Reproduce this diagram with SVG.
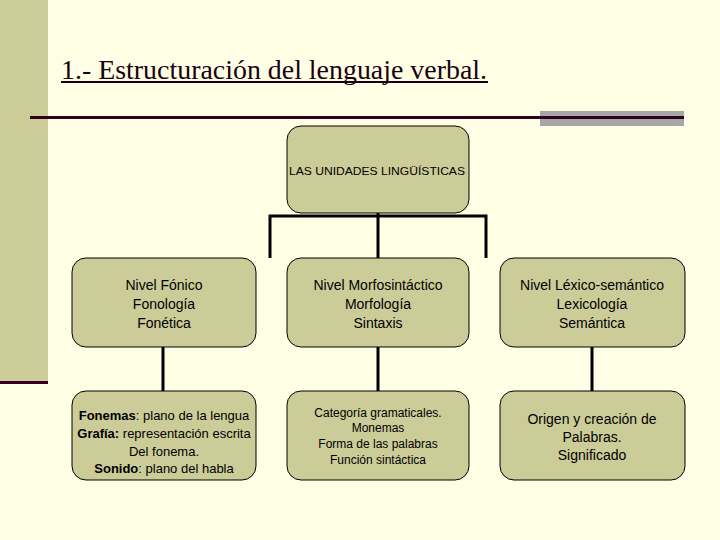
<svg xmlns="http://www.w3.org/2000/svg" width="720" height="540" viewBox="0 0 720 540">
<style>
.box{fill:#CCCC99;stroke:#000;stroke-width:1}
.c{stroke:#000;stroke-width:3;fill:none}
text{font-family:"Liberation Sans",Arial,sans-serif;fill:#000;text-anchor:middle}
.t{font-size:14px}
.s{font-size:12px}
.f{font-size:13px}
.ti{font-family:"Liberation Serif","Times New Roman",serif;font-size:27px;text-anchor:start;fill:#1a0010}
</style>
<rect width="720" height="540" fill="#FFFFE5"/>
<rect x="0" y="0" width="48" height="382" fill="#CCCC99"/>
<rect x="0" y="381" width="48" height="3" fill="#330022"/>
<rect x="540" y="111" width="144" height="15" fill="#A6A6A6"/>
<rect x="30" y="116" width="654" height="3" fill="#330022"/>
<text class="ti" x="61" y="79" textLength="426" lengthAdjust="spacingAndGlyphs">1.- Estructuración del lenguaje verbal.</text>
<rect x="61" y="81" width="427" height="2" fill="#1a0010"/>
<g id="connectors">
<path class="c" d="M270 258V216H486V258M378 213V258"/>
<path class="c" d="M163 347V391M378 347V391M592 347V391"/>
</g>
<g id="root"><rect class="box" x="287" y="126" width="182" height="87" rx="14"/><text x="377" y="175" style="font-size:11px" textLength="176" lengthAdjust="spacingAndGlyphs">LAS UNIDADES LINGÜÍSTICAS</text></g>
<g id="fonico"><rect class="box" x="72" y="258" width="184" height="89" rx="14"/><text class="t" x="164" y="290">Nivel Fónico</text><text class="t" x="164" y="309">Fonología</text><text class="t" x="164" y="328">Fonética</text></g>
<g id="morfo"><rect class="box" x="287" y="258" width="182" height="89" rx="14"/><text class="t" x="378" y="290">Nivel Morfosintáctico</text><text class="t" x="378" y="309">Morfología</text><text class="t" x="378" y="328">Sintaxis</text></g>
<g id="lexico"><rect class="box" x="500" y="258" width="185" height="89" rx="14"/><text class="t" x="592" y="290">Nivel Léxico-semántico</text><text class="t" x="592" y="309">Lexicología</text><text class="t" x="592" y="328">Semántica</text></g>
<g id="fonemas"><rect class="box" x="72" y="391" width="184" height="89" rx="14"/>
<text class="f" x="164" y="420"><tspan font-weight="bold">Fonemas</tspan>: plano de la lengua</text>
<text class="f" x="164" y="438"><tspan font-weight="bold">Grafía:</tspan> representación escrita</text>
<text class="f" x="164" y="456">Del fonema.</text>
<text class="f" x="164" y="473"><tspan font-weight="bold">Sonido</tspan>: plano del habla</text></g>
<g id="categoria"><rect class="box" x="287" y="391" width="182" height="89" rx="14"/>
<text class="s" x="378" y="417">Categoría gramaticales.</text><text class="s" x="378" y="432">Monemas</text><text class="s" x="378" y="448">Forma de las palabras</text><text class="s" x="378" y="464">Función sintáctica</text></g>
<g id="origen"><rect class="box" x="500" y="391" width="185" height="89" rx="14"/>
<text class="t" x="592" y="424">Origen y creación de</text><text class="t" x="592" y="442">Palabras.</text><text class="t" x="592" y="460">Significado</text></g>
</svg>
